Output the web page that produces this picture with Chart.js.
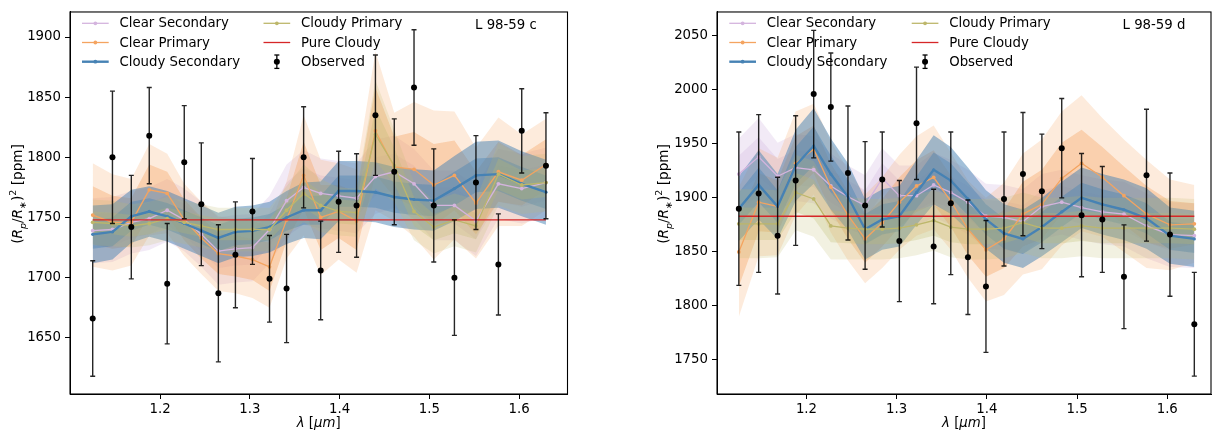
<!DOCTYPE html>
<html><head><meta charset="utf-8">
<script src="https://cdn.jsdelivr.net/npm/chart.js@4.4.1/dist/chart.umd.min.js"></script>
<style>
html,body{margin:0;padding:0;background:#fff;width:1218px;height:434px;overflow:hidden;font-family:'DejaVu Sans',sans-serif;}
.panel{position:absolute;top:0;height:434px;}
.panel canvas{position:absolute;left:0;top:0;}
.txt{position:absolute;font-size:13.3px;color:#000;white-space:nowrap;line-height:16px;height:16px;margin-top:-8px;}
.ylab{position:absolute;font-size:13.6px;color:#000;white-space:nowrap;transform:translate(-50%,-50%) rotate(-90deg);line-height:16px;}
.ylab sub,.ylab sup{font-size:70%;line-height:0;}
.xlab{position:absolute;font-size:13.3px;color:#000;white-space:nowrap;transform:translate(-50%,-50%);}
#sw{position:absolute;left:0;top:0;z-index:5;pointer-events:none;}
.txt,.ylab,.xlab{z-index:6;}
</style></head>
<body>
<div class="panel" style="left:0;width:590px;"><canvas id="cC" width="590" height="434"></canvas></div>
<div class="panel" style="left:600px;width:618px;"><canvas id="cD" width="618" height="434"></canvas></div>
<svg id="sw" width="1218" height="434"></svg>

<div class="ylab" style="left:17px;top:194px;">(<i>R</i><sub><i>p</i></sub>/<i>R</i><sub>∗</sub>)<sup>2</sup> [ppm]</div>
<div class="ylab" style="left:663px;top:194px;">(<i>R</i><sub><i>p</i></sub>/<i>R</i><sub>∗</sub>)<sup>2</sup> [ppm]</div>
<div class="xlab" style="left:318.7px;top:421.7px;"><i>λ</i> [<i>μm</i>]</div>
<div class="xlab" style="left:964px;top:421.7px;"><i>λ</i> [<i>μm</i>]</div>
<div class="txt" style="left:475px;top:25px;">L 98-59 c</div>
<div class="txt" style="left:1122.5px;top:25px;">L 98-59 d</div>

<script>
// ---------------- DATA ----------------
const wavelength = [1.125,1.147,1.168,1.188,1.208,1.227,1.246,1.265,1.284,1.303,1.322,1.341,1.360,1.379,1.399,1.419,1.440,1.461,1.483,1.505,1.528,1.552,1.577,1.603,1.630];
const xTicks = [1.2,1.3,1.4,1.5,1.6];
const yTicksC = [1650,1700,1750,1800,1850,1900];
const yTicksD = [1750,1800,1850,1900,1950,2000,2050];
const seriesNames = ['Clear Secondary','Clear Primary','Cloudy Secondary','Cloudy Primary','Pure Cloudy','Observed'];

// L 98-59 c
const observedC = [1666,1800,1742,1818,1695,1796,1761,1687,1719,1755,1699,1691,1800,1706,1763,1760,1835,1788,1858,1760,1700,1779,1711,1822,1793];
const observedErrC = [48,55,43,40,50,47,51,57,44,44,36,45,42,41,42,43,50,44,48,47,48,39,42,35,44];
const clearSecC = [1739,1740,1746,1749,1756,1748,1736,1722,1724,1725,1740,1764,1775,1770,1768,1766,1784,1788,1778,1760,1760,1747,1778,1774,1779];
const clearSecC_s1 = [14,14,13,13,13,13,14,14,14,14,14,15,16,15,15,15,16,15,15,15,15,15,15,15,15];
const clearSecC_s2 = [27,27,26,26,26,26,27,28,28,28,28,30,31,29,29,29,31,30,29,29,29,29,29,29,29];
const clearPriC = [1752,1746,1746,1773,1770,1748,1733,1720,1718,1715,1709,1748,1785,1750,1755,1747,1822,1792,1790,1777,1785,1762,1788,1781,1794];
const clearPriC_s1 = [24,22,20,21,18,17,17,17,17,17,20,18,28,27,22,24,36,25,31,34,29,26,25,21,21];
const clearPriC_s2 = [43,40,36,38,33,30,30,31,31,32,34,32,50,48,40,43,66,45,56,62,53,46,45,38,38];
const cloudySecC = [1736,1738,1751,1755,1751,1745,1739,1733,1738,1739,1742,1750,1756,1756,1772,1772,1771,1767,1765,1764,1774,1785,1786,1778,1771];
const cloudySecC_s1 = [12,12,12,11,11,11,11,11,11,11,11,11,12,12,13,13,13,13,13,13,14,14,14,14,14];
const cloudySecC_s2 = [24,23,22,21,21,21,21,21,21,21,21,22,23,24,25,25,25,25,25,25,27,28,28,27,27];
const cloudyPriC = [1746,1745,1743,1745,1749,1746,1743,1740,1740,1740,1740,1756,1770,1760,1755,1754,1819,1793,1755,1742,1748,1743,1786,1777,1779];
const cloudyPriC_s1 = [9,9,9,9,9,9,9,9,9,9,9,10,12,11,10,10,22,15,12,11,11,11,13,12,12];
const cloudyPriC_s2 = [19,19,18,18,18,18,18,18,18,18,18,20,24,22,20,20,45,30,24,22,22,22,26,24,24];
const pureCloudyC = 1748;

// L 98-59 d
const observedD = [1890,1904,1865,1916,1996,1984,1923,1893,1917,1860,1969,1855,1895,1845,1818,1899,1922,1906,1946,1884,1880,1827,1921,1866,1783];
const observedErrD = [71,73,54,60,59,50,62,59,44,56,52,53,66,53,61,62,57,53,46,57,49,48,61,57,48];
const clearSecD = [1922,1938,1920,1928,1926,1911,1901,1893,1918,1902,1902,1912,1905,1896,1883,1882,1878,1892,1896,1891,1887,1885,1874,1866,1865];
const clearSecD_s1 = [17,18,16,16,16,15,15,14,14,14,14,15,15,15,15,15,15,15,15,15,15,15,15,15,15];
const clearSecD_s2 = [33,36,31,31,31,30,29,28,28,28,28,30,30,30,30,30,30,30,30,30,30,30,30,30,30];
const clearPriD = [1850,1896,1892,1932,1945,1910,1884,1862,1877,1896,1911,1919,1897,1871,1852,1862,1885,1894,1918,1932,1919,1902,1885,1875,1876];
const clearPriD_s1 = [32,27,24,25,22,22,22,22,22,23,24,25,24,24,25,27,30,32,33,31,28,27,26,22,19];
const clearPriD_s2 = [60,50,45,48,42,42,42,41,42,44,46,48,45,45,48,52,56,60,62,63,55,52,50,42,36];
const cloudySecD = [1890,1912,1892,1930,1948,1922,1901,1871,1880,1883,1905,1926,1916,1899,1880,1867,1862,1873,1887,1900,1894,1889,1881,1865,1862];
const cloudySecD_s1 = [15,16,15,17,18,17,16,14,14,14,15,16,16,15,14,14,14,14,14,14,14,14,14,13,13];
const cloudySecD_s2 = [30,32,30,33,35,33,31,28,28,28,30,32,31,29,27,27,27,27,28,28,28,28,28,26,26];
const cloudyPriD = [1876,1876,1876,1905,1899,1874,1872,1871,1871,1872,1875,1879,1873,1871,1871,1872,1877,1872,1872,1874,1872,1872,1872,1872,1871];
const cloudyPriD_s1 = [15,15,15,18,18,15,14,14,14,14,14,14,14,14,14,14,14,14,14,14,14,14,14,14,14];
const cloudyPriD_s2 = [32,32,31,35,35,31,29,28,28,28,28,28,28,28,28,28,28,28,28,28,28,28,28,28,28];
const pureCloudyD = 1883;

// ---------------- STYLE ----------------
const STY = {
  cs:  {line:'rgb(212,180,222)', band:[196,160,212], lw:1.3, aO:0.22, aI:0.22},
  cp:  {line:'rgb(244,164,96)',  band:[244,164,96],  lw:1.3, aO:0.22, aI:0.38},
  cds: {line:'rgb(70,130,180)',  band:[70,130,180],  lw:2.4, aO:0.5,  aI:0.4},
  cpy: {line:'rgb(189,183,107)', band:[189,183,107], lw:1.3, aO:0.2,  aI:0.27},
  pure:'rgb(214,39,40)'
};
function rgba(c,a){return 'rgba('+c[0]+','+c[1]+','+c[2]+','+a+')';}
function pts(arr, off, sign){return arr.map((v,i)=>({x:wavelength[i], y: off ? v + sign*off[i] : v}));}

Chart.defaults.font.family = "'DejaVu Sans', sans-serif";
Chart.defaults.font.size = 13.3;
Chart.defaults.color = '#000';

const errorBarPlugin = {
  id:'errbars',
  beforeDatasetDraw(chart, args){
    const ds = chart.data.datasets[args.index];
    if(!ds.errors) return;
    const xs = chart.scales.x, ys = chart.scales.y, ctx = chart.ctx;
    ctx.save();
    ctx.strokeStyle = 'rgba(0,0,0,0.85)';
    ctx.lineWidth = 1.4;
    ds.data.forEach((p,i)=>{
      const x = xs.getPixelForValue(p.x);
      const yt = ys.getPixelForValue(p.y + ds.errors[i]);
      const yb = ys.getPixelForValue(p.y - ds.errors[i]);
      ctx.beginPath();
      ctx.moveTo(x,yt); ctx.lineTo(x,yb);
      ctx.moveTo(x-2.5,yt); ctx.lineTo(x+2.5,yt);
      ctx.moveTo(x-2.5,yb); ctx.lineTo(x+2.5,yb);
      ctx.stroke();
    });
    ctx.restore();
  }
};
const framePlugin = {
  id:'frame',
  afterDraw(chart){
    const a = chart.chartArea, ctx = chart.ctx;
    ctx.save(); ctx.strokeStyle='#000'; ctx.lineWidth=1.1;
    ctx.strokeRect(a.left, a.top, a.right-a.left, a.bottom-a.top);
    ctx.restore();
  }
};

function makePanel(p){
  const ds = [];
  let ord = 100;
  p.models.forEach(m=>{
    [[m.s2, m.sty.aO],[m.s1, m.sty.aI]].forEach(([s,a])=>{
      ds.push({data:pts(m.mean,s,1), borderWidth:0, borderColor:'rgba(0,0,0,0)', pointRadius:0, fill:'+1', backgroundColor:rgba(m.sty.band,a), order:ord, tension:0});
      ds.push({data:pts(m.mean,s,-1), borderWidth:0, borderColor:'rgba(0,0,0,0)', pointRadius:0, fill:false, order:ord, tension:0});
      ord--;
    });
  });
  let lo = 20;
  p.models.forEach(m=>{
    ds.push({label:m.name, data:pts(m.mean), borderColor:m.sty.line, borderWidth:m.sty.lw, pointRadius:m.sty.lw>2?1.6:1.9, pointBackgroundColor:m.sty.line, pointBorderWidth:0, fill:false, order:lo, tension:0});
    lo--;
  });
  ds.push({label:'Pure Cloudy', data:[{x:wavelength[0],y:p.pure},{x:wavelength[wavelength.length-1],y:p.pure}], borderColor:STY.pure, borderWidth:1.3, pointRadius:0, fill:false, order:5, tension:0});
  ds.push({label:'Observed', data:pts(p.obs), errors:p.err, showLine:false, pointRadius:3, pointBackgroundColor:'#000', pointBorderWidth:0, borderColor:'#000', order:0});

  new Chart(document.getElementById(p.id), {
    type:'line',
    data:{datasets:ds},
    options:{
      responsive:false, animation:false, events:[],
      layout:{padding:{top:5,right:p.padRight,left:0,bottom:0}},
      plugins:{legend:{display:false}, tooltip:{enabled:false}, filler:{drawTime:'beforeDatasetsDraw', propagate:false}},
      scales:{
        x:{type:'linear', min:p.xMin, max:p.xMax,
           afterBuildTicks:ax=>{ax.ticks = xTicks.map(v=>({value:v}));},
           afterFit:sc=>{sc.height = 40;},
           ticks:{callback:v=>v.toFixed(1), padding:3, color:'#000', font:{size:13.3}, maxRotation:0, autoSkip:false},
           grid:{drawOnChartArea:false, drawTicks:true, tickLength:5, tickWidth:1, tickColor:'#000'},
           border:{display:true, color:'#000', width:1}},
        y:{type:'linear', min:p.yMin, max:p.yMax,
           afterBuildTicks:ax=>{ax.ticks = p.yTicks.map(v=>({value:v}));},
           afterFit:sc=>{sc.width = p.axisW;},
           ticks:{callback:v=>String(v), padding:4, color:'#000', font:{size:13.3}, autoSkip:false},
           grid:{drawOnChartArea:false, drawTicks:true, tickLength:5, tickWidth:1, tickColor:'#000'},
           border:{display:true, color:'#000', width:1}}
      }
    },
    plugins:[errorBarPlugin, framePlugin]
  });
}

makePanel({id:'cC', obs:observedC, err:observedErrC, pure:pureCloudyC,
  xMin:1.0997, xMax:1.654, yMin:1603.3, yMax:1920.8, yTicks:yTicksC, axisW:70, padRight:22.5,
  models:[
    {name:seriesNames[0], mean:clearSecC, s1:clearSecC_s1, s2:clearSecC_s2, sty:STY.cs},
    {name:seriesNames[1], mean:clearPriC, s1:clearPriC_s1, s2:clearPriC_s2, sty:STY.cp},
    {name:seriesNames[2], mean:cloudySecC, s1:cloudySecC_s1, s2:cloudySecC_s2, sty:STY.cds},
    {name:seriesNames[3], mean:cloudyPriC, s1:cloudyPriC_s1, s2:cloudyPriC_s2, sty:STY.cpy}
  ]});
makePanel({id:'cD', obs:observedD, err:observedErrD, pure:pureCloudyD,
  xMin:1.1008, xMax:1.6485, yMin:1718.5, yMax:2072, yTicks:yTicksD, axisW:117, padRight:7,
  models:[
    {name:seriesNames[0], mean:clearSecD, s1:clearSecD_s1, s2:clearSecD_s2, sty:STY.cs},
    {name:seriesNames[1], mean:clearPriD, s1:clearPriD_s1, s2:clearPriD_s2, sty:STY.cp},
    {name:seriesNames[2], mean:cloudySecD, s1:cloudySecD_s1, s2:cloudySecD_s2, sty:STY.cds},
    {name:seriesNames[3], mean:cloudyPriD, s1:cloudyPriD_s1, s2:cloudyPriD_s2, sty:STY.cpy}
  ]});

// ---------------- LEGENDS (HTML text + SVG swatches) ----------------
const svg = document.getElementById('sw');
const NS = 'http://www.w3.org/2000/svg';
function el(tag, attrs){const e=document.createElementNS(NS,tag); for(const k in attrs) e.setAttribute(k,attrs[k]); svg.appendChild(e); return e;}
function legend(col1x, col2x){
  const rows = [23.3, 42.5, 61.7];
  const w = 26.7, gap = 10.8;
  const entries = [
    {c:col1x, r:0, sty:STY.cs}, {c:col1x, r:1, sty:STY.cp}, {c:col1x, r:2, sty:STY.cds},
    {c:col2x, r:0, sty:STY.cpy}, {c:col2x, r:1, pure:true}, {c:col2x, r:2, obs:true}
  ];
  entries.forEach((e,i)=>{
    const y = rows[e.r], x0 = e.c, x1 = e.c + w, xm = (x0+x1)/2;
    if(e.obs){
      el('line',{x1:xm,y1:y-6.7,x2:xm,y2:y+6.7,stroke:'#000','stroke-width':1.3});
      el('line',{x1:xm-2.5,y1:y-6.7,x2:xm+2.5,y2:y-6.7,stroke:'#000','stroke-width':1.3});
      el('line',{x1:xm-2.5,y1:y+6.7,x2:xm+2.5,y2:y+6.7,stroke:'#000','stroke-width':1.3});
      el('circle',{cx:xm,cy:y,r:3,fill:'#000'});
    } else if(e.pure){
      el('line',{x1:x0,y1:y,x2:x1,y2:y,stroke:STY.pure,'stroke-width':1.3});
    } else {
      el('line',{x1:x0,y1:y,x2:x1,y2:y,stroke:e.sty.line,'stroke-width':e.sty.lw});
      el('circle',{cx:xm,cy:y,r:1.9,fill:e.sty.line});
    }
    const d = document.createElement('div');
    d.className='txt'; d.style.left=(x1+gap)+'px'; d.style.top=y+'px';
    d.textContent = seriesNames[i];
    document.body.appendChild(d);
  });
}
legend(82, 263.5);
legend(729.3, 911.7);
</script>
</body></html>
